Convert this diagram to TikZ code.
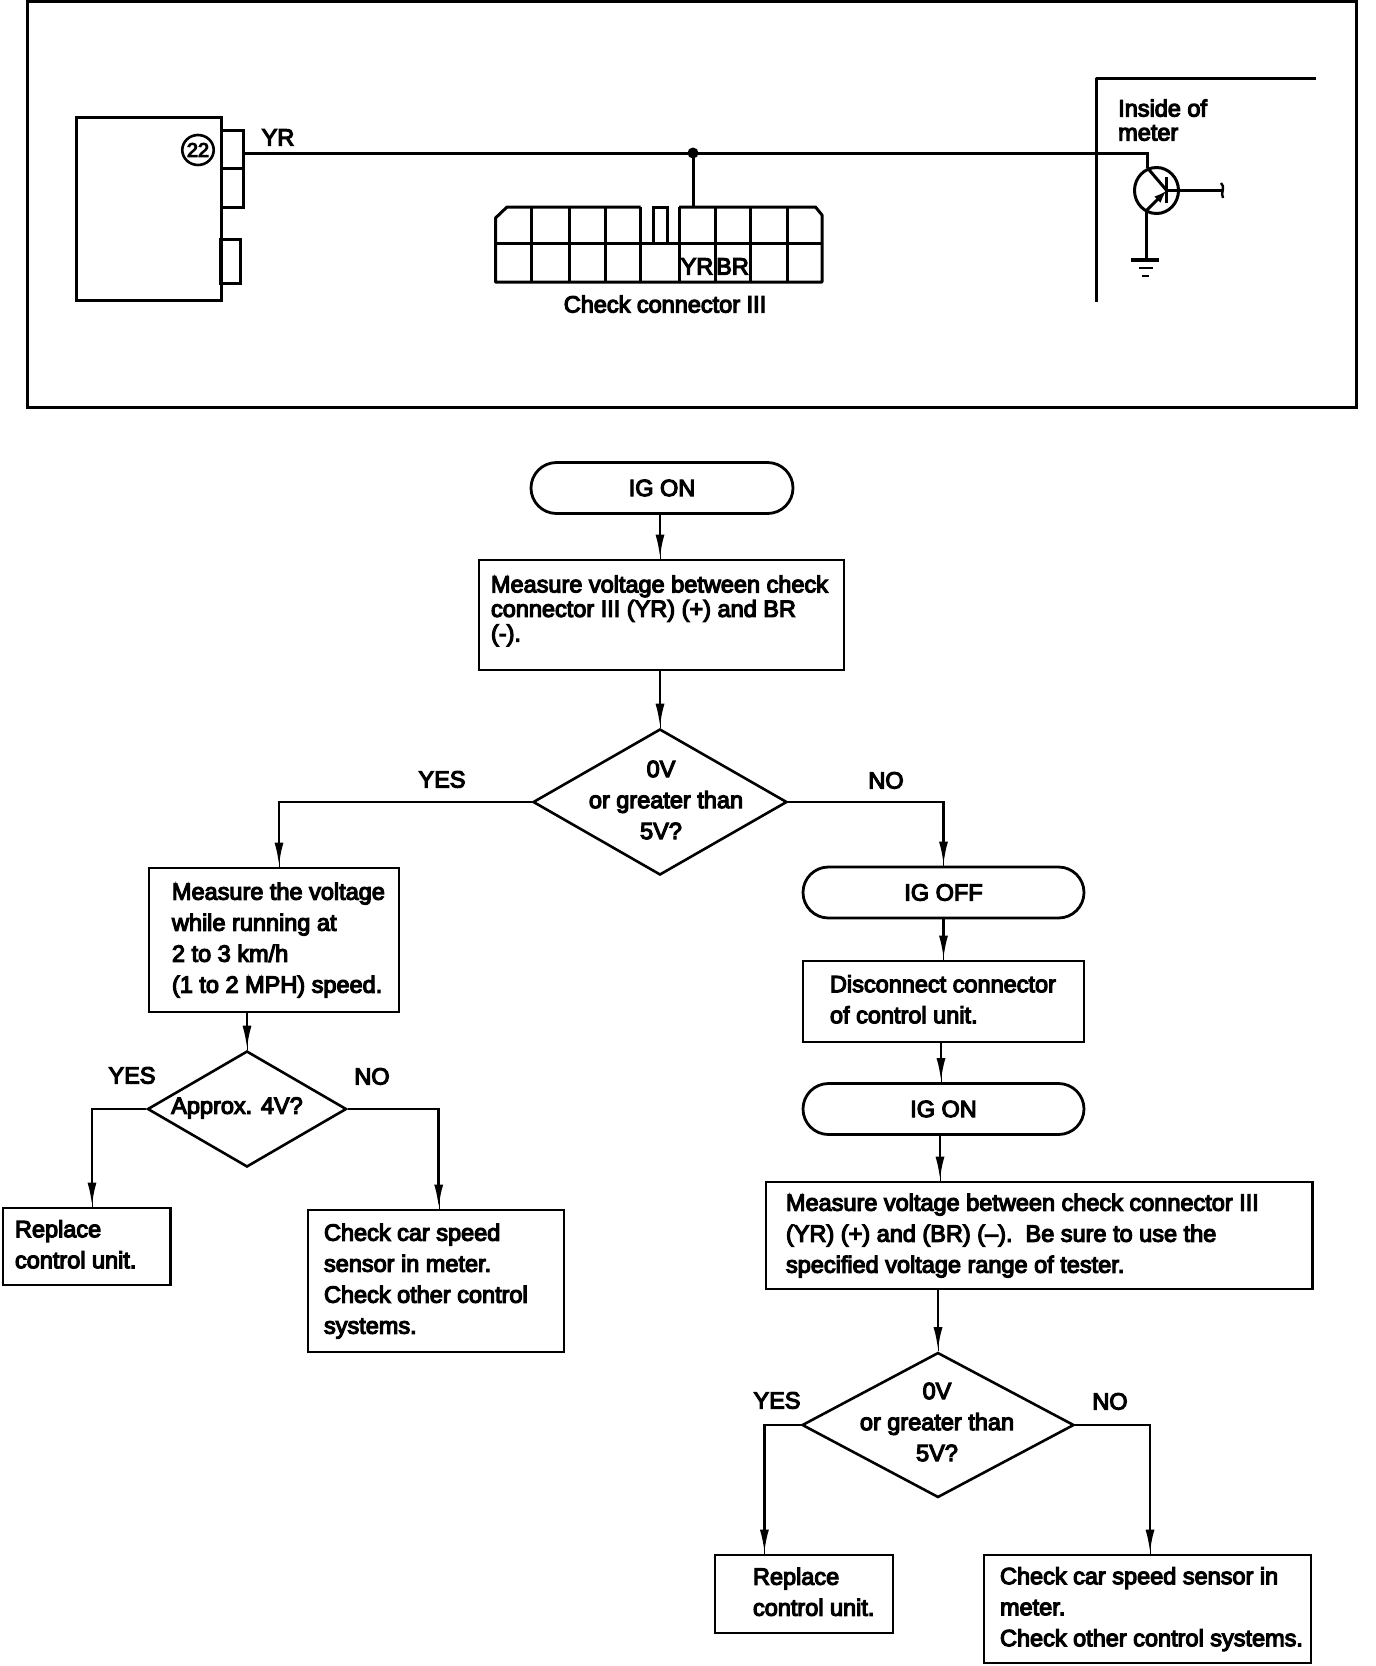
\documentclass[tikz,border=0pt]{standalone}
\usepackage{fontspec}
\usetikzlibrary{arrows.meta,shapes.geometric,shapes.misc}
\newfontfamily\tf[FakeBold=5]{Liberation Sans}
\newcommand\flowbox[8]{%
  \pgfmathsetmacro\bxw{#4-#2}\pgfmathsetmacro\bxh{#5-#3}%
  \pgfmathsetmacro\bxc{(#2+#4)/2}\pgfmathsetmacro\byc{(#3+#5)/2}%
  \node[fbox,minimum width=\bxw pt,minimum height=\bxh pt,#7] (#1) at (\bxc,\byc) {\makebox[\bxw pt][l]{\hspace*{#6pt}\begin{tabular}{@{}l@{}}#8\end{tabular}}};}
\tikzset{
  lbl/.style={font=\tf\fontsize{23.5}{31}\selectfont,inner sep=0pt,text height=17pt,text depth=0pt},
  fbox/.style={draw,line width=2.8pt,inner sep=0pt,font=\tf\fontsize{23.5}{31}\selectfont},
  term/.style={draw,line width=2.8pt,rounded rectangle,inner sep=0pt,minimum height=51pt,font=\tf\fontsize{23.5}{31}\selectfont},
  dia/.style={draw,line width=2.6pt,diamond,inner sep=0pt},
  dtxt/.style={align=center,inner sep=0pt,font=\tf\fontsize{23.5}{31}\selectfont},
  wire/.style={line width=3pt},
  flow/.style={line width=2.8pt,preaction={draw,-},-{Latex[length=24pt,width=9pt]}},
  tab/.style={draw,line width=3pt,inner sep=0pt},
}
\begin{document}
\begin{tikzpicture}[x=1pt,y=-1pt]
\useasboundingbox (0,0) rectangle (1376,1666);
% frame
\node[draw,line width=3pt,inner sep=0pt,minimum width=1329pt,minimum height=406pt] (frame) at (692,204) {};
% control unit
\node[tab,minimum width=145pt,minimum height=183pt] (cu) at (148.5,208.5) {};
\node[tab,minimum width=22pt,minimum height=38pt] (tabA) at (232,149) {};
\node[tab,minimum width=22pt,minimum height=39pt] (tabB) at (232,187.5) {};
\node[tab,minimum width=20pt,minimum height=44pt] (tabC) at (230,261) {};
\node[draw,line width=2.6pt,ellipse,minimum width=28pt,minimum height=30pt,inner sep=0pt,font=\tf\fontsize{20}{20}\selectfont] (n22) at (198,150) {22};
\node[lbl] (yr) at (278,137) {YR};
% wire and junction
\node[circle,fill,inner sep=0pt,minimum size=11pt] (jn) at (693,153) {};
\coordinate (mtin) at (1147.5,153);
\coordinate (cnntop) at (693,207);
\draw[wire] (tabA.east |- jn) -- (jn.center) -- (mtin) -- (1147.5,168);
\draw[wire] (jn.center) -- (cnntop);
% check connector
\draw[wire,line join=round] (640.5,207) -- (507,207) -- (495.5,218) -- (495.5,282) -- (822,282) -- (822,215) -- (815.5,207) -- (679,207);
\draw[wire] (495.5,243) -- (822,243);
\foreach \x in {531,569,605,640.5,679,715,750,787} \draw[wire] (\x,207) -- (\x,282);
\draw[wire] (653,243) -- (653,207) -- (667,207) -- (667,243);
\node[lbl] (cyr) at (697,266) {YR};
\node[lbl] (cbr) at (732.5,266) {BR};
\node[lbl] (cck) at (665,304) {Check connector III};
% meter
\draw[wire,line join=round] (1315.5,78) -- (1096.5,78) -- (1096.5,302);
\node[lbl,anchor=west] (ins) at (1118,108) {Inside of};
\node[lbl,anchor=west] (met) at (1118,132) {meter};
\node[draw,line width=3pt,ellipse,minimum width=44pt,minimum height=46pt,inner sep=0pt] (tr) at (1156.5,190.5) {};
\draw[wire] (1147.5,168) -- (1166.7,190.5);
\draw[wire] (1166.7,177) -- (1166.7,203);
\draw[wire,-{Latex[length=13pt,width=9pt]}] (1146,211) -- (1166.7,190.5);
\draw[wire] (1166.7,190) -- (1223,190);
\draw[line width=2.4pt] (1221,183) .. controls (1226,187) and (1220,193) .. (1223,198);
\draw[wire] (1146,211) -- (1146,259);
\draw[line width=3.5pt] (1131,260) -- (1159,260);
\draw[line width=2.5pt] (1139,268) -- (1153,268);
\draw[line width=2.5pt] (1142,276) -- (1149,276);
% flow: top
\node[term,minimum width=262pt] (ig1) at (662,488) {IG ON};
\flowbox{m1}{479}{560}{844}{670}{12}{font=\tf\fontsize{23.5}{24.5}\selectfont}{Measure voltage between check\\connector III (YR) (+) and BR\\(-).\\[6pt]}
\node[dia,minimum width=254pt,minimum height=146pt] (d1) at (660,802) {};
\node[dtxt] (d1t) at (661,800) {0V\\\hspace*{10pt}or greater than\\5V?};
\coordinate (xa) at (660,0);
\draw[flow] (xa |- ig1.south) -- (xa |- m1.north);
\draw[flow] (xa |- m1.south) -- (xa |- d1.north);
\node[lbl] (y1) at (442,779) {YES};
\node[lbl] (n1) at (886,780) {NO};
% left branch
\flowbox{m2}{149}{868}{399}{1012}{23}{}{Measure the voltage\\while running at\\2 to 3 km/h\\(1 to 2 MPH) speed.}
\coordinate (xb) at (279,0);
\draw[flow] (d1.west) -| (xb |- m2.north);
\node[dia,minimum width=199pt,minimum height=116pt] (d2) at (247,1109) {};
\node[dtxt] (d2t) at (237,1108) {Approx. 4V?};
\draw[flow] (d2.north |- m2.south) -- (d2.north);
\node[lbl] (y2) at (132,1075) {YES};
\node[lbl] (n2) at (372,1076) {NO};
\flowbox{r1}{3}{1208}{170.5}{1285}{12}{}{Replace\\control unit.}
\flowbox{c1}{308}{1210}{564}{1352}{16}{}{Check car speed\\sensor in meter.\\Check other control\\systems.}
\coordinate (xc) at (92,0);
\coordinate (xd) at (438.7,0);
\draw[flow] (d2.west) -| (xc |- r1.north);
\draw[flow] (d2.east) -| (xd |- c1.north);
% right branch
\node[term,minimum width=281pt] (ig2) at (943.5,892.5) {IG OFF};
\coordinate (xe) at (943.5,0);
\draw[flow] (d1.east) -| (xe |- ig2.north);
\flowbox{dc}{803}{961}{1084}{1042}{27}{}{Disconnect connector\\of control unit.}
\draw[flow] (xe |- ig2.south) -- (xe |- dc.north);
\node[term,minimum width=281pt] (ig3) at (943.5,1109) {IG ON};
\coordinate (xf) at (941,0);
\draw[flow] (xf |- dc.south) -- (xf |- ig3.north);
\flowbox{m3}{766}{1182}{1312.5}{1289}{20}{}{Measure voltage between check connector III\\(YR) (+) and (BR) (–).\ \ Be sure to use the\\specified voltage range of tester.}
\coordinate (xg) at (940,0);
\draw[flow] (xg |- ig3.south) -- (xg |- m3.north);
\node[dia,minimum width=272pt,minimum height=145pt] (d3) at (938,1425) {};
\node[dtxt] (d3t) at (937,1422) {0V\\or greater than\\5V?};
\draw[flow] (d3.north |- m3.south) -- (d3.north);
\node[lbl] (y3) at (777,1400) {YES};
\node[lbl] (n3) at (1110,1401) {NO};
\flowbox{r2}{715}{1555}{893}{1633}{38}{}{Replace\\control unit.}
\flowbox{c2}{984}{1555}{1311}{1663}{16}{}{Check car speed sensor in\\meter.\\Check other control systems.}
\coordinate (xh) at (764.4,0);
\coordinate (xi) at (1150,0);
\draw[flow] (d3.west) -| (xh |- r2.north);
\draw[flow] (d3.east) -| (xi |- c2.north);
\end{tikzpicture}
\end{document}
